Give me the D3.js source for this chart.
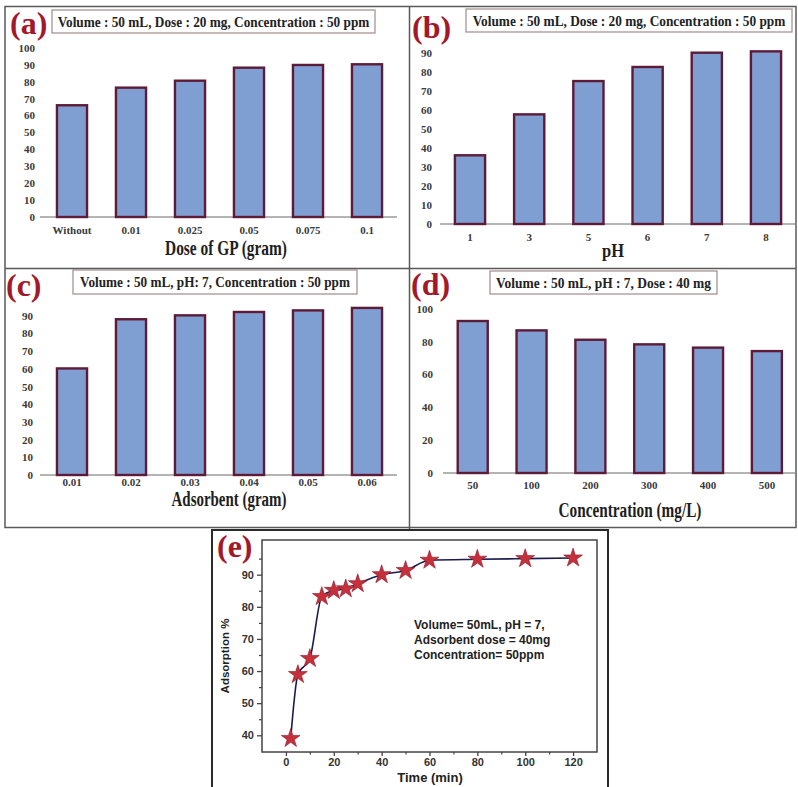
<!DOCTYPE html>
<html>
<head>
<meta charset="utf-8">
<script src="https://cdn.jsdelivr.net/npm/d3@7"></script>
<style>
  body { margin: 0; background: #fff; }
  svg { display: block; }
</style>
</head>
<body>
<svg id="chart" width="798" height="787"></svg>
<script>
// (a) effect of GP dose
const doseCats = ["Without", "0.01", "0.025", "0.05", "0.075", "0.1"];
const doseVals = [66.0, 76.4, 80.5, 88.2, 89.8, 90.2];
const doseTicks = [0, 10, 20, 30, 40, 50, 60, 70, 80, 90, 100];

// (b) effect of pH
const phCats = ["1", "3", "5", "6", "7", "8"];
const phVals = [36.1, 57.6, 75.1, 82.5, 90.0, 90.7];
const phTicks = [0, 10, 20, 30, 40, 50, 60, 70, 80, 90];

// (c) effect of adsorbent amount
const adsCats = ["0.01", "0.02", "0.03", "0.04", "0.05", "0.06"];
const adsVals = [60.2, 88.0, 90.2, 92.1, 93.0, 94.4];
const adsTicks = [0, 10, 20, 30, 40, 50, 60, 70, 80, 90];

// (d) effect of initial concentration
const concCats = ["50", "100", "200", "300", "400", "500"];
const concVals = [92.5, 86.8, 81.1, 78.3, 76.3, 74.2];
const concTicks = [0, 20, 40, 60, 80, 100];

// (e) contact time
const timeMin = [2, 5, 10, 15, 20, 25, 30, 40, 50, 60, 80, 100, 120];
const adsorptionPct = [39.0, 58.9, 63.9, 83.2, 85.1, 85.6, 87.2, 90.0, 91.3, 94.5, 94.8, 95.0, 95.2];
const timeTicks = [0, 20, 40, 60, 80, 100, 120];
const timeMinor = [10, 30, 50, 70, 90, 110];
const pctTicks = [40, 50, 60, 70, 80, 90];
const pctMinor = [45, 55, 65, 75, 85, 95];

const SERIF = "'Liberation Serif', 'Times New Roman', serif";
const SANS = "'Liberation Sans', Arial, sans-serif";
const svg = d3.select("#chart");

// Draws a centred text and squeezes it horizontally to a given width (condensed look).
function fittedText(parent, str, cx, baseline, size, width, fill) {
  const g = parent.append("g");
  const t = g.append("text")
    .attr("text-anchor", "middle")
    .attr("font-family", SERIF).attr("font-size", size).attr("font-weight", "bold")
    .attr("fill", fill)
    .text(str);
  const natural = t.node().getComputedTextLength() || width;
  g.attr("transform", `translate(${cx},${baseline}) scale(${width / natural},1)`);
  return g;
}

// frame around the four bar panels
const frame = svg.append("g").attr("fill", "none").attr("stroke", "#5a5a5a").attr("stroke-width", 1.5);
frame.append("rect").attr("x", 5).attr("y", 6.5).attr("width", 791).attr("height", 521);
frame.append("line").attr("x1", 409.5).attr("x2", 409.5).attr("y1", 6.5).attr("y2", 530);
frame.append("line").attr("x1", 5).attr("x2", 796).attr("y1", 268.5).attr("y2", 268.5);

function barPanel(cfg) {
  const g = svg.append("g");
  const y = d3.scaleLinear().domain([0, d3.max(cfg.ticks)]).range([cfg.y0, cfg.yTop]);
  const x = d3.scaleBand().domain(cfg.cats).range(cfg.xRange)
    .paddingInner(0.49).paddingOuter(0.245);

  // baseline
  g.append("line")
    .attr("x1", cfg.axisX[0]).attr("x2", cfg.axisX[1])
    .attr("y1", y(0)).attr("y2", y(0))
    .attr("stroke", "#b4b4b4").attr("stroke-width", 2);

  // y tick labels
  const ya = g.append("g").attr("transform", `translate(${cfg.tickX},0)`)
    .call(d3.axisLeft(y).tickValues(cfg.ticks).tickSize(0).tickPadding(0));
  ya.select(".domain").remove();
  ya.selectAll("text")
    .attr("font-family", SERIF).attr("font-size", 11).attr("font-weight", "bold")
    .attr("fill", "#3a3a3a");

  // bars
  g.selectAll("rect.bar").data(cfg.vals).join("rect").attr("class", "bar")
    .attr("x", (d, i) => x(cfg.cats[i]))
    .attr("width", x.bandwidth())
    .attr("y", d => y(d))
    .attr("height", d => y(0) - y(d))
    .attr("fill", "#7f9fd3")
    .attr("stroke", "#5e1b38").attr("stroke-width", 2.4);

  // x tick labels
  const xa = g.append("g").attr("transform", `translate(0,${cfg.xTickY})`)
    .call(d3.axisBottom(x).tickSize(0).tickPadding(0));
  xa.select(".domain").remove();
  xa.selectAll("text")
    .attr("dy", 0)
    .attr("font-family", SERIF).attr("font-size", 11).attr("font-weight", "bold")
    .attr("fill", "#3a3a3a");

  // x axis title
  fittedText(g, cfg.title.text, cfg.title.x, cfg.title.y, cfg.title.size, cfg.title.w, "#1e1e1e");

  // condition box
  const b = cfg.box;
  g.append("rect").attr("x", b.x).attr("y", b.y).attr("width", b.w).attr("height", b.h)
    .attr("fill", "#fff").attr("stroke", "#9e8a8a").attr("stroke-width", 1.2);
  fittedText(g, b.text, b.x + b.w / 2, b.y + b.h / 2 + 5, 14.5, b.tw, "#222");

  // panel letter
  g.append("text")
    .attr("x", cfg.letter.x).attr("y", cfg.letter.y)
    .attr("font-family", SERIF).attr("font-size", 32).attr("font-weight", "bold")
    .attr("fill", "#a3192b")
    .text(cfg.letter.text);
}

barPanel({
  cats: doseCats, vals: doseVals, ticks: doseTicks,
  y0: 217, yTop: 47.7, xRange: [42.5, 396.5], axisX: [40, 397], tickX: 35, xTickY: 233.5,
  title: { text: "Dose of GP (gram)", x: 226, y: 255, size: 20, w: 122 },
  box: { x: 52, y: 10, w: 323, h: 23, tw: 312, text: "Volume : 50 mL, Dose : 20 mg, Concentration  : 50 ppm" },
  letter: { text: "(a)", x: 10, y: 34 }
});

barPanel({
  cats: phCats, vals: phVals, ticks: phTicks,
  y0: 224, yTop: 52.7, xRange: [440.4, 795.6], axisX: [440, 795], tickX: 432, xTickY: 241,
  title: { text: "pH", x: 613, y: 257, size: 19, w: 22 },
  box: { x: 466, y: 9, w: 326, h: 23, tw: 313, text: "Volume : 50 mL, Dose : 20 mg, Concentration  : 50 ppm" },
  letter: { text: "(b)", x: 412, y: 38 }
});

barPanel({
  cats: adsCats, vals: adsVals, ticks: adsTicks,
  y0: 475, yTop: 315.7, xRange: [42.5, 396.5], axisX: [40, 397], tickX: 33, xTickY: 485.5,
  title: { text: "Adsorbent (gram)", x: 229, y: 506, size: 20, w: 115 },
  box: { x: 73, y: 270, w: 284, h: 24, tw: 270, text: "Volume : 50 mL, pH: 7, Concentration  : 50 ppm" },
  letter: { text: "(c)", x: 6, y: 296 }
});

barPanel({
  cats: concCats, vals: concVals, ticks: concTicks,
  y0: 473, yTop: 308.7, xRange: [443.3, 796.3], axisX: [443, 795], tickX: 433, xTickY: 489,
  title: { text: "Concentration (mg/L)", x: 630, y: 517, size: 20, w: 143 },
  box: { x: 490, y: 271, w: 227, h: 23, tw: 215, text: "Volume : 50 mL, pH : 7, Dose : 40 mg" },
  letter: { text: "(d)", x: 411, y: 295 }
});

// (e) contact time curve
const ge = svg.append("g");
ge.append("rect").attr("x", 212).attr("y", 530).attr("width", 396).attr("height", 262)
  .attr("fill", "#fff").attr("stroke", "#2a2a2a").attr("stroke-width", 2);

const xe = d3.scaleLinear().domain([-10, 130]).range([262, 597]);
const ye = d3.scaleLinear().domain([34.8, 100.8]).range([752, 540]);

// plot frame
ge.append("rect").attr("x", 262).attr("y", 540).attr("width", 335).attr("height", 212)
  .attr("fill", "none").attr("stroke", "#444").attr("stroke-width", 1.5);

const xAx = ge.append("g").attr("transform", "translate(0,752)")
  .call(d3.axisBottom(xe).tickValues(timeTicks).tickSize(4).tickPadding(2).tickFormat(d3.format("d")));
xAx.select(".domain").remove();
xAx.selectAll("line").attr("stroke", "#444").attr("stroke-width", 1.3);
xAx.selectAll("text").attr("font-family", SANS).attr("font-size", 11).attr("font-weight", "bold").attr("fill", "#333");
const xMin = ge.append("g").attr("transform", "translate(0,752)")
  .call(d3.axisBottom(xe).tickValues(timeMinor).tickSize(2.5).tickFormat(""));
xMin.select(".domain").remove();
xMin.selectAll("line").attr("stroke", "#444").attr("stroke-width", 1.2);

const yAx = ge.append("g").attr("transform", "translate(262,0)")
  .call(d3.axisLeft(ye).tickValues(pctTicks).tickSize(5).tickPadding(3).tickFormat(d3.format("d")));
yAx.select(".domain").remove();
yAx.selectAll("line").attr("stroke", "#444").attr("stroke-width", 1.3);
yAx.selectAll("text").attr("font-family", SANS).attr("font-size", 11).attr("font-weight", "bold").attr("fill", "#333");
const yMin = ge.append("g").attr("transform", "translate(262,0)")
  .call(d3.axisLeft(ye).tickValues(pctMinor).tickSize(3).tickFormat(""));
yMin.select(".domain").remove();
yMin.selectAll("line").attr("stroke", "#444").attr("stroke-width", 1.2);

const pts = timeMin.map((t, i) => [t, adsorptionPct[i]]);
ge.append("path").datum(pts)
  .attr("d", d3.line().x(d => xe(d[0])).y(d => ye(d[1])).curve(d3.curveMonotoneX))
  .attr("fill", "none").attr("stroke", "#1b1b4d").attr("stroke-width", 1.6);

ge.selectAll("path.star").data(pts).join("path").attr("class", "star")
  .attr("transform", d => `translate(${xe(d[0])},${ye(d[1])})`)
  .attr("d", d3.symbol(d3.symbolStar, 110))
  .attr("fill", "#c4303c").attr("stroke", "#8c1a2a").attr("stroke-width", 0.6);

ge.append("text").attr("x", 430).attr("y", 782).attr("text-anchor", "middle")
  .attr("font-family", SANS).attr("font-size", 13).attr("font-weight", "bold").attr("fill", "#222")
  .text("Time (min)");
ge.append("text").attr("transform", "translate(229,656) rotate(-90)").attr("text-anchor", "middle")
  .attr("font-family", SANS).attr("font-size", 11.5).attr("font-weight", "bold").attr("fill", "#222")
  .text("Adsorption %");

const notes = ["Volume= 50mL, pH = 7,", "Adsorbent dose = 40mg", "Concentration= 50ppm"];
ge.selectAll("text.note").data(notes).join("text").attr("class", "note")
  .attr("x", 414).attr("y", (d, i) => 629 + i * 15)
  .attr("font-family", SANS).attr("font-size", 12).attr("font-weight", "bold").attr("fill", "#222")
  .text(d => d);

ge.append("text").attr("x", 217).attr("y", 557)
  .attr("font-family", SERIF).attr("font-size", 32).attr("font-weight", "bold")
  .attr("fill", "#a3192b").text("(e)");
</script>
</body>
</html>
